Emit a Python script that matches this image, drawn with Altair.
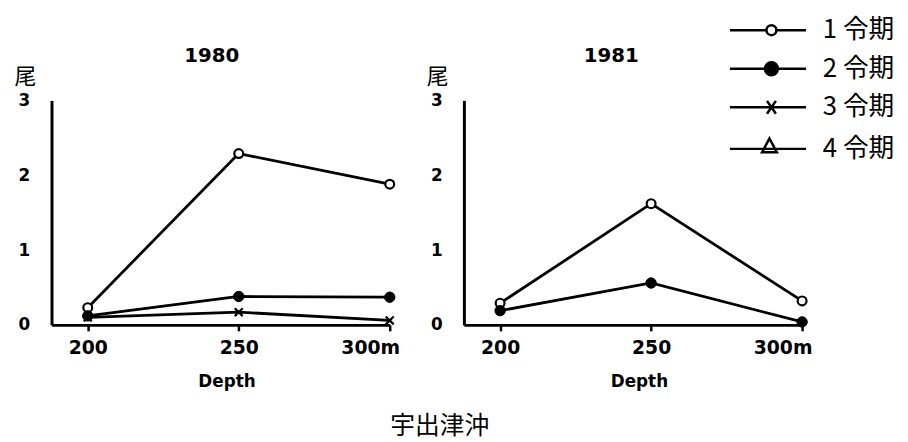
import altair as alt
import pandas as pd

# ---- data ----
depth = [200, 250, 300]
stages = ["1 令期", "2 令期", "3 令期", "4 令期"]
c1980_s1 = [0.23, 2.29, 1.88]
c1980_s2 = [0.12, 0.38, 0.37]
c1980_s3 = [0.10, 0.17, 0.06]
c1981_s1 = [0.29, 1.62, 0.32]
c1981_s2 = [0.19, 0.56, 0.04]
years = ["1980", "1981"]
y_ticks = [0, 1, 2, 3]
count_unit = "尾"
x_title = "Depth"
site = "宇出津沖"


def frame(series):
    rows = []
    for stage, vals in series.items():
        for d, v in zip(depth, vals):
            rows.append({"depth": d, "count": v, "stage": stage})
    return pd.DataFrame(rows)


df80 = frame({stages[0]: c1980_s1, stages[1]: c1980_s2, stages[2]: c1980_s3})
df81 = frame({stages[0]: c1981_s1, stages[1]: c1981_s2})

W, H = 342, 227
BLACK = "#000000"
NUM_FONT = "DejaVu Sans"
CJK_FONT = "Noto Sans CJK JP"

x_enc = alt.X(
    "depth:Q",
    scale=alt.Scale(domain=[188, 300], nice=False, zero=False),
    axis=alt.Axis(
        values=depth,
        title=x_title,
        labelExpr="datum.value == 300 ? '300m' : datum.label",
        labelOffset={"condition": {"test": "datum.value == 300", "value": 10}, "value": 0},
        tickSize=6,
        labelPadding=8,
        labelFontSize=19,
        labelFontWeight="bold",
        titleFontSize=17,
        titleFontWeight="bold",
        titleX=W / 2 + 6,
        titleY=57,
        titleBaseline="middle",
        titleAlign="center",
    ),
)

y_enc = alt.Y(
    "count:Q",
    scale=alt.Scale(domain=[0, 3], nice=False),
    axis=alt.Axis(
        values=y_ticks,
        format="d",
        title=count_unit,
        titleAngle=0,
        titleX=-27,
        titleY=-24,
        titleAlign="center",
        titleBaseline="middle",
        titleFont=CJK_FONT,
        titleFontSize=22,
        titleFontWeight="normal",
        labelFontSize=17,
        labelFontWeight="bold",
        labelPadding=22,
        ticks=False,
    ),
)

X_PATH = "M-1,-1L1,1M-1,1L1,-1"

point_styles = {
    stages[0]: dict(shape="circle", filled=True, fill="white", stroke=BLACK, strokeWidth=2.2, size=80, opacity=1),
    stages[1]: dict(shape="circle", filled=True, fill=BLACK, stroke=BLACK, strokeWidth=1, size=110, opacity=1),
    stages[2]: dict(shape=X_PATH, filled=False, stroke=BLACK, strokeWidth=2.2, size=64, opacity=1),
}

# legend symbols: a line segment with the stage's marker on it
legend_paths = [
    "M-8.4,0H-1M1,0H7M-1,0A1,1,0,1,0,1,0A1,1,0,1,0,-1,0Z",
    "M-8.4,0H-1.3M1.3,0H7M-1.3,0A1.3,1.3,0,1,0,1.3,0A1.3,1.3,0,1,0,-1.3,0Z",
    "M-8.4,0H7M-0.9,-1.3L0.9,1.3M-0.9,1.3L0.9,-1.3",
    "M-8.4,0H7M-0.4,-2.1L1.1,0.7L-1.9,0.7Z",
]
legend_fills = ["white", BLACK, "white", "white"]
legend_strokes = [BLACK, BLACK, BLACK, BLACK]


def make_legend():
    return alt.Legend(
        orient="none",
        legendX=715,
        legendY=-84,
        title=None,
        padding=0,
        labelFont=CJK_FONT,
        labelFontSize=26,
        labelColor=BLACK,
        labelOffset=39,
        symbolSize=100,
        symbolStrokeColor=BLACK,
        symbolStrokeWidth=2.5,
        symbolOpacity=1,
        rowPadding=13,
    )


def panel(df, year, title_dx, with_legend=False):
    base = alt.Chart(df)
    layers = [
        base.mark_line(color=BLACK, strokeWidth=2.8).encode(x=x_enc, y=y_enc, detail="stage:N")
    ]
    present = set(df["stage"])
    for stage, style in point_styles.items():
        if stage in present:
            layers.append(
                base.transform_filter(alt.datum.stage == stage)
                .mark_point(**style)
                .encode(x=x_enc, y=y_enc)
            )
    if with_legend:
        leg_df = pd.DataFrame({"stage": stages, "depth": [None] * 4, "count": [None] * 4})
        layers.append(
            alt.Chart(leg_df)
            .mark_point(filled=False, strokeWidth=2.5, size=100, opacity=1)
            .encode(
                x=x_enc,
                y=y_enc,
                shape=alt.Shape("stage:N", scale=alt.Scale(domain=stages, range=legend_paths), legend=make_legend()),
                fill=alt.Fill("stage:N", scale=alt.Scale(domain=stages, range=legend_fills), legend=make_legend()),
                stroke=alt.Stroke("stage:N", scale=alt.Scale(domain=stages, range=legend_strokes), legend=make_legend()),
            )
        )
    return alt.layer(*layers).properties(
        width=W,
        height=H,
        title=alt.TitleParams(
            year,
            font=NUM_FONT,
            fontSize=20,
            fontWeight="bold",
            anchor="middle",
            frame="group",
            offset=0,
            dx=title_dx,
            color=BLACK,
        ),
    )


left = panel(df80, years[0], -9)
right = panel(df81, years[1], -22, with_legend=True).properties(width=342)

chart = (
    alt.hconcat(
        left,
        right,
        spacing=75,
        bounds="flush",
        title=alt.TitleParams(
            site,
            orient="bottom",
            anchor="middle",
            font=CJK_FONT,
            fontSize=25,
            fontWeight="normal",
            offset=25,
            dx=-15,
            color=BLACK,
        ),
        padding={"left": 5, "top": 7, "right": 5, "bottom": 3},
    )
    .configure_view(stroke=None)
    .configure_axis(
        domainColor=BLACK,
        domainWidth=3,
        tickColor=BLACK,
        tickWidth=2.5,
        labelColor=BLACK,
        titleColor=BLACK,
        grid=False,
        labelFont=NUM_FONT,
        titleFont=NUM_FONT,
    )
)

chart.save("out.html", embed_options={"renderer": "svg", "actions": False})
